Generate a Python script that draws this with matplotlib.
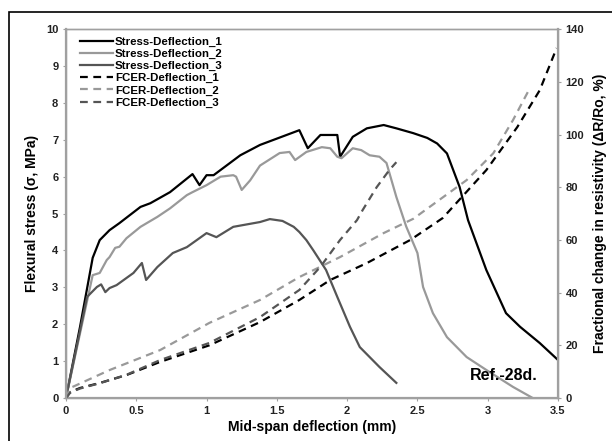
import matplotlib.pyplot as plt
from matplotlib.patches import Rectangle
from matplotlib.ticker import FuncFormatter

plt.rcParams['font.family'] = ['Liberation Sans', 'DejaVu Sans']
plt.rcParams['font.weight'] = 'bold'

# Stress-deflection curves (mm, MPa)
s1_x = [0, 0.10, 0.19, 0.24, 0.31, 0.38, 0.53, 0.60, 0.74, 0.90, 0.95, 1.00, 1.05, 1.24,
        1.38, 1.66, 1.72, 1.81, 1.93, 1.95, 2.04, 2.14, 2.26, 2.35, 2.47, 2.57, 2.64,
        2.71, 2.80, 2.86, 2.99, 3.13, 3.23, 3.37, 3.50]
s1_y = [0, 1.93, 3.8, 4.28, 4.55, 4.74, 5.18, 5.28, 5.58, 6.07, 5.77, 6.04, 6.04, 6.58,
        6.86, 7.26, 6.77, 7.13, 7.13, 6.54, 7.08, 7.31, 7.40, 7.31, 7.18, 7.05, 6.90,
        6.63, 5.72, 4.82, 3.47, 2.30, 1.93, 1.49, 1.03]

s2_x = [0, 0.19, 0.24, 0.29, 0.31, 0.35, 0.38, 0.43, 0.53, 0.65, 0.74, 0.86, 0.90, 1.00,
        1.10, 1.19, 1.21, 1.25, 1.31, 1.38, 1.52, 1.59, 1.63, 1.71, 1.82, 1.88, 1.93,
        1.96, 2.04, 2.10, 2.16, 2.23, 2.28, 2.35, 2.42, 2.50, 2.54, 2.61, 2.71, 2.85,
        2.99, 3.18, 3.32]
s2_y = [0, 3.33, 3.39, 3.74, 3.82, 4.07, 4.10, 4.33, 4.64, 4.91, 5.14, 5.50, 5.58, 5.77,
        6.00, 6.04, 6.00, 5.64, 5.90, 6.30, 6.64, 6.67, 6.45, 6.67, 6.80, 6.77, 6.54,
        6.50, 6.77, 6.72, 6.58, 6.54, 6.37, 5.45, 4.65, 3.93, 3.01, 2.30, 1.65, 1.11,
        0.76, 0.30, 0.0]

s3_x = [0, 0.15, 0.22, 0.25, 0.28, 0.31, 0.36, 0.48, 0.54, 0.57, 0.65, 0.76, 0.86, 1.00,
        1.07, 1.19, 1.38, 1.45, 1.54, 1.62, 1.66, 1.71, 1.76, 1.85, 1.93, 2.02, 2.09,
        2.23, 2.35]
s3_y = [0, 2.74, 3.01, 3.08, 2.87, 2.98, 3.06, 3.39, 3.66, 3.20, 3.55, 3.93, 4.09, 4.47,
        4.36, 4.64, 4.77, 4.85, 4.80, 4.64, 4.50, 4.28, 4.00, 3.47, 2.74, 1.93, 1.38,
        0.84, 0.41]

# FCER-deflection curves (mm, %)
f1_x = [0, 0.03, 0.10, 0.24, 0.43, 0.67, 1.02, 1.38, 1.66, 1.88, 2.14, 2.45, 2.68, 2.99,
        3.21, 3.37, 3.49]
f1_y = [0, 2.3, 3.8, 5.7, 8.7, 13.7, 20.0, 28.8, 37.2, 44.8, 51.2, 60.0, 68.3, 86.5,
        102.8, 116.8, 132.8]

f2_x = [0, 0.03, 0.31, 0.67, 1.02, 1.38, 1.66, 1.95, 2.26, 2.47, 2.85, 3.04, 3.18, 3.30]
f2_y = [0, 3.8, 10.6, 18.2, 28.5, 37.2, 45.9, 53.5, 62.6, 68.0, 82.7, 92.9, 105.5, 117.6]

f3_x = [0, 0.03, 0.10, 0.24, 0.43, 0.67, 1.02, 1.38, 1.66, 1.81, 1.95, 2.07, 2.11, 2.21,
        2.30, 2.35]
f3_y = [0, 2.0, 3.6, 5.6, 8.8, 14.4, 20.9, 30.7, 41.0, 49.8, 60.0, 67.5, 71.3, 80.0,
        86.5, 89.5]

x_ticks = [0, 0.5, 1, 1.5, 2, 2.5, 3, 3.5]
y_ticks = list(range(0, 11))
y2_ticks = list(range(0, 141, 20))

fig = plt.figure(figsize=(6.12, 4.41), dpi=100)
ax = fig.add_axes([0.1078, 0.0975, 0.804, 0.8365])
ax2 = ax.twinx()

dash = (0, (3.5, 2.5))
l1, = ax.plot(s1_x, s1_y, color='black', lw=1.6, label='Stress-Deflection_1')
l2, = ax.plot(s2_x, s2_y, color='#999999', lw=1.6, label='Stress-Deflection_2')
l3, = ax.plot(s3_x, s3_y, color='#555555', lw=1.6, label='Stress-Deflection_3')
d1, = ax2.plot(f1_x, f1_y, color='black', lw=1.6, ls=dash, label='FCER-Deflection_1')
d2, = ax2.plot(f2_x, f2_y, color='#999999', lw=1.6, ls=dash, label='FCER-Deflection_2')
d3, = ax2.plot(f3_x, f3_y, color='#555555', lw=1.6, ls=dash, label='FCER-Deflection_3')

ax.set_xlim(0, 3.5)
ax.set_ylim(0, 10)
ax2.set_ylim(0, 140)
ax.set_xticks(x_ticks)
ax.set_yticks(y_ticks)
ax2.set_yticks(y2_ticks)
ax.xaxis.set_major_formatter(FuncFormatter(lambda v, p: f'{v:g}'))

for a in (ax, ax2):
    for s in a.spines.values():
        s.set_color('#a0a0a0')
        s.set_linewidth(1.0)
    a.tick_params(direction='out', length=2.5, width=0.8, color='#a0a0a0',
                  labelsize=8, labelcolor='#222222', pad=3)
ax.spines['left'].set_linewidth(1.6)
ax.spines['bottom'].set_linewidth(1.6)
ax2.spines['right'].set_linewidth(1.6)

ax.set_xlabel('Mid-span deflection (mm)', fontsize=10, fontweight='bold', labelpad=3)
ax.set_ylabel('Flexural stress (σ, MPa)', fontsize=10, fontweight='bold', labelpad=5)
ax2.set_ylabel('Fractional change in resistivity (ΔR/Ro, %)', fontsize=10,
               fontweight='bold', labelpad=6)

ax2.legend(handles=[l1, l2, l3, d1, d2, d3], loc='upper left',
           bbox_to_anchor=(0.012, 1.0), frameon=False, fontsize=8.25,
           handlelength=2.9, handletextpad=0.15, labelspacing=0.17, borderaxespad=0.3)

ax2.text(2.87, 0.6 * 14, 'Ref.-28d.', fontsize=11.5, fontweight='bold', va='center')

fig.patches.append(Rectangle((9 / 612, -0.05), 1.2, 1 - 12 / 441 + 0.05,
                             transform=fig.transFigure, fill=False, ec='black', lw=1.2))

fig.savefig('out.png', dpi=100)
